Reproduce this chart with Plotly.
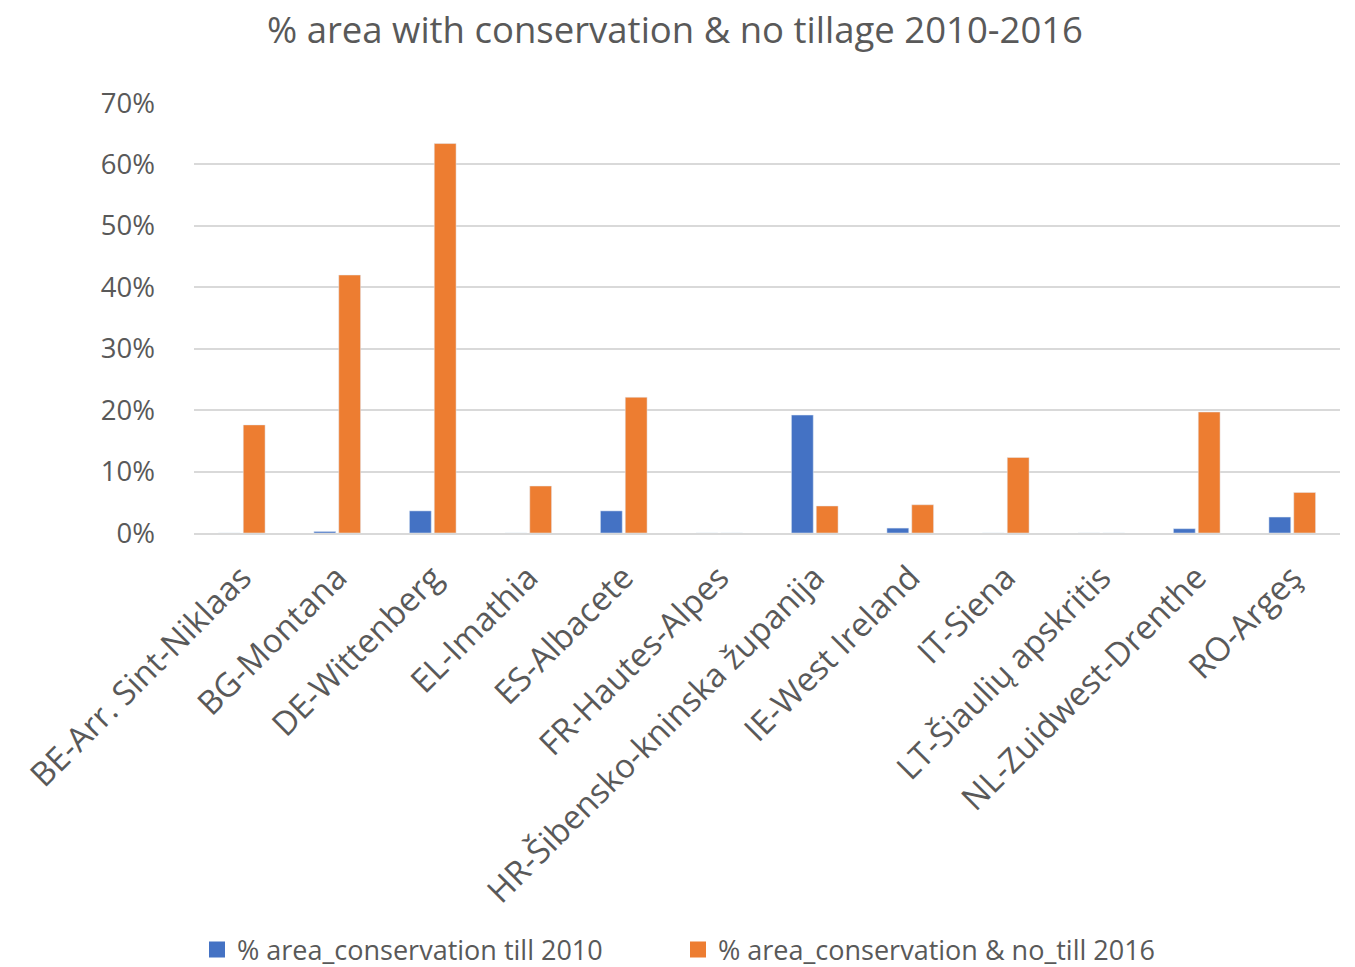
import plotly.graph_objects as go

categories = ["BE-Arr. Sint-Niklaas", "BG-Montana", "DE-Wittenberg", "EL-Imathia",
              "ES-Albacete", "FR-Hautes-Alpes", "HR-Šibensko-kninska županija",
              "IE-West Ireland", "IT-Siena", "LT-Šiaulių apskritis",
              "NL-Zuidwest-Drenthe", "RO-Argeş"]
till_2010 = [0.0, 0.0025, 0.036, 0.0, 0.036, 0.0, 0.192, 0.008, 0.0, 0.0, 0.007, 0.026]
till_2016 = [0.176, 0.420, 0.634, 0.0765, 0.221, 0.0, 0.044, 0.046, 0.123, 0.0, 0.197, 0.066]
series_names = ["% area_conservation till 2010", "% area_conservation & no_till 2016"]
y_ticks = [0, 0.1, 0.2, 0.3, 0.4, 0.5, 0.6, 0.7]
y_tick_labels = ["0%", "10%", "20%", "30%", "40%", "50%", "60%", "70%"]

FONT = "Open Sans"
GREY = "#595959"
BLUE, ORANGE = "#4472C4", "#ED7D31"
W, H = 1347, 959  # page body has an 8px margin

fig = go.Figure()
fig.add_trace(go.Bar(x=categories, y=till_2010, name=series_names[0],
                     marker=dict(color=BLUE), showlegend=False))
fig.add_trace(go.Bar(x=categories, y=till_2016, name=series_names[1],
                     marker=dict(color=ORANGE), showlegend=False))
# legend entries (larger square swatches, like the reference)
fig.add_trace(go.Scatter(x=[None], y=[None], mode="markers", name=series_names[0],
                         marker=dict(symbol="square", size=16, color=BLUE),
                         legend="legend"))
fig.add_trace(go.Scatter(x=[None], y=[None], mode="markers", name=series_names[1],
                         marker=dict(symbol="square", size=16, color=ORANGE),
                         legend="legend2"))

legend_common = dict(orientation="h", xref="container", yref="container",
                     xanchor="left", y=1 - 942 / H, yanchor="middle",
                     font=dict(family=FONT, size=27, color=GREY), itemwidth=30,
                     bgcolor="rgba(0,0,0,0)")

fig.update_layout(
    width=W, height=H,
    margin=dict(l=179, r=15, t=95, b=434),
    paper_bgcolor="white", plot_bgcolor="white",
    barmode="group", bargap=0.48, bargroupgap=0.12,
    font=dict(family=FONT, color=GREY, size=26),
    title=dict(text="% area with conservation & no tillage 2010-2016",
               x=(675 - 8) / W, xref="container", xanchor="center",
               y=1 - 22 / H, yref="container", yanchor="middle",
               font=dict(family=FONT, size=36.5, color=GREY)),
    xaxis=dict(tickangle=-45, showgrid=False, showline=True, linecolor="#d9d9d9",
               linewidth=2, ticks="", ticklabelstandoff=10,
               tickfont=dict(size=33, color=GREY)),
    yaxis=dict(range=[0, 0.7], tickvals=y_ticks, ticktext=y_tick_labels,
               showgrid=True, gridcolor="#d9d9d9", gridwidth=2, zeroline=False,
               showline=False, ticks="", ticklabelstandoff=38,
               tickfont=dict(size=27.5, color=GREY)),
    legend=dict(legend_common, x=(197 - 8) / W),
    legend2=dict(legend_common, x=(678 - 8) / W),
    showlegend=True,
)

fig.write_html("out.html")
